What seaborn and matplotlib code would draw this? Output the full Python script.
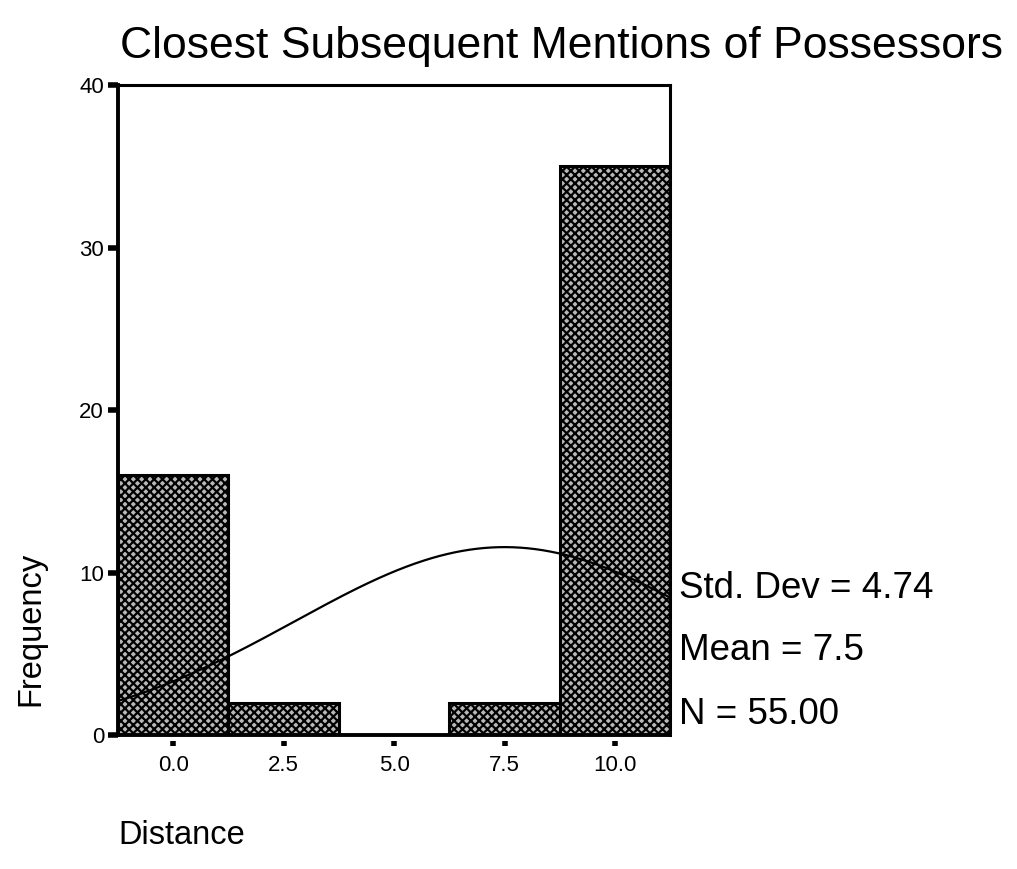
import numpy as np
import pandas as pd
import matplotlib
matplotlib.use("Agg")
import matplotlib.pyplot as plt
import seaborn as sns
from matplotlib.path import Path
from matplotlib.markers import MarkerStyle

# ---- data ----
bin_centers = [0.0, 2.5, 5.0, 7.5, 10.0]
frequencies = [16, 2, 0, 2, 35]
x_tick_labels = ["0.0", "2.5", "5.0", "7.5", "10.0"]
y_ticks = [0, 10, 20, 30, 40]
std_dev = 4.74
mean_val = 7.5
n_val = 55.00
bin_width = 2.5

sns.set_theme(style="white")
plt.rcParams['font.family'] = ['Liberation Sans', 'DejaVu Sans']
plt.rcParams['hatch.linewidth'] = 1.6
plt.rcParams['text.color'] = 'black'
plt.rcParams['xtick.color'] = 'black'
plt.rcParams['ytick.color'] = 'black'

fig = plt.figure(figsize=(10.17, 8.69), dpi=100)
ax = fig.add_axes([0.116, 0.154, 0.543, 0.748])

df = pd.DataFrame({"Distance": bin_centers, "Frequency": frequencies})
sns.histplot(data=df, x="Distance", weights="Frequency", binwidth=bin_width,
             binrange=(bin_centers[0] - bin_width / 2, bin_centers[-1] + bin_width / 2),
             ax=ax, color="#b8b8b8", alpha=1, edgecolor="black", linewidth=2.2)
for p in ax.patches:
    p.set_hatch("xxxx")
    p.set_edgecolor("black")

# normal curve from stated mean / sd
xs = np.linspace(bin_centers[0] - bin_width / 2, bin_centers[-1] + bin_width / 2, 300)
ys = sum(frequencies) * bin_width / (std_dev * np.sqrt(2 * np.pi)) * np.exp(-0.5 * ((xs - mean_val) / std_dev) ** 2)
sns.lineplot(x=xs, y=ys, ax=ax, color="black", linewidth=1.6)

ax.set_xlim(bin_centers[0] - bin_width / 2, bin_centers[-1] + bin_width / 2)
ax.set_ylim(0, 40)
ax.set_yticks(y_ticks)
ax.set_yticklabels([str(v) for v in y_ticks])
ax.set_xticks(bin_centers)
ax.set_xticklabels(x_tick_labels)
ax.set_xlabel("")
ax.set_ylabel("")

for s in ax.spines.values():
    s.set_visible(True)
    s.set_color("black")
ax.spines['left'].set_linewidth(2.8)
ax.spines['bottom'].set_linewidth(2.8)
ax.spines['top'].set_linewidth(2.2)
ax.spines['right'].set_linewidth(2.2)

ax.tick_params(axis='y', direction='out', length=7, width=4, color='black', pad=3,
               left=True, labelsize=16, labelcolor='black')
ax.tick_params(axis='x', direction='out', length=0, width=0, pad=14, bottom=True,
               labelsize=16, labelcolor='black')

# detached dot-like x ticks
dot = Path([(0, -0.55), (0, -1.0)])
for t in ax.xaxis.get_major_ticks():
    t.tick1line.set_marker(MarkerStyle(dot))
    t.tick1line.set_markersize(16)
    t.tick1line.set_markeredgewidth(4)
    t.tick1line.set_markeredgecolor("black")

fig.text(0.552, 0.947, "Closest Subsequent Mentions of Possessors", fontsize=32,
         ha="center", va="center", color="black")
fig.text(0.030, 0.276, "Frequency", fontsize=23.5, rotation=90, ha="center", va="center",
         color="black")
fig.text(0.116, 0.039, "Distance", fontsize=23.5, ha="left", va="center", color="black")

stats = [f"Std. Dev = {std_dev:.2f}", f"Mean = {mean_val:.1f}", f"N = {n_val:.2f}"]
for i, s in enumerate(stats):
    fig.text(0.668, 1 - (588 + 63 * i) / 869, s, fontsize=26.5, ha="left", va="center",
             color="black")

fig.savefig("out.png", dpi=100)
